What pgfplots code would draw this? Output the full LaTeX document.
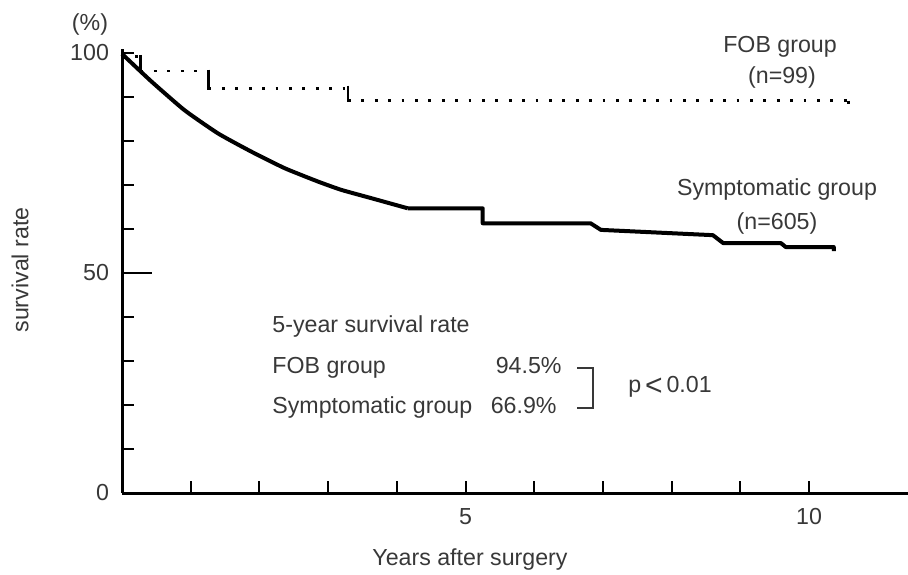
\documentclass[border=0pt]{standalone}
\usepackage{pgfplots}
\pgfplotsset{compat=1.18}
\usepackage{fontspec}
\setmainfont{Liberation Sans}
\definecolor{txt}{rgb}{0.22,0.22,0.22}
\newcommand{\tf}{\fontsize{11.6}{14}\selectfont}
\begin{document}
\begin{tikzpicture}[x=0.5pt,y=0.5pt]
\useasboundingbox (-122,-81) rectangle (786,493);
\begin{axis}[
  at={(0,0)}, anchor=south west,
  scale only axis, width=393pt, height=222.2pt,
  xmin=0, xmax=11.44, ymin=0, ymax=101,
  axis lines=left,
  axis line style={-, line width=1.5pt, black},
  tick align=inside,
  major tick length=6pt,
  xtick={1,...,10},
  xticklabels={{},{},{},{},5,{},{},{},{},10},
  ytick={0,10,20,30,40,60,70,80,90,100},
  yticklabels={0,{},{},{},{},{},{},{},{},100},
  extra y ticks={50},
  extra y tick labels={50},
  extra y tick style={major tick length=15pt, major tick style={line width=2pt, black}},
  x tick style={line width=1pt, black},
  y tick style={line width=1.2pt, black},
  /pgf/number format/assume math mode=true,
  ticklabel style={font=\tf, text=txt},
  yticklabel style={xshift=-3pt},
  xticklabel style={yshift=-4pt},
  clip=false,
]
% Symptomatic group
\addplot[black, line width=2pt, line join=round, smooth, tension=0.3] coordinates {
(0,99.8)(0.43,93.5)(0.91,87.0)(1.40,81.7)(1.88,77.6)(2.37,73.8)(2.85,70.8)(3.19,68.9)(3.63,67.0)(4.16,64.7)
};
\addplot[black, line width=2pt, line join=round] coordinates {
(4.16,64.7)(5.25,64.7)(5.25,61.3)(6.82,61.3)(6.97,59.8)(8.6,58.6)(8.75,56.8)(9.59,56.8)(9.66,55.9)(10.36,55.9)(10.36,55)
};
% FOB group horizontal (dotted)
\addplot[black, line width=1.4pt, dash pattern=on 1.4pt off 5.3pt] coordinates {(0,99.2)(0.27,99.2)};
\addplot[black, line width=1.4pt, dash pattern=on 1.4pt off 5.3pt] coordinates {(0.27,95.9)(1.26,95.9)};
\addplot[black, line width=1.4pt, dash pattern=on 1.4pt off 5.3pt] coordinates {(1.26,92.0)(3.29,92.0)};
\addplot[black, line width=1.4pt, dash pattern=on 1.4pt off 5.3pt] coordinates {(3.29,89.2)(10.57,89.2)};
% FOB group steps (solid)
\addplot[black, line width=1.3pt] coordinates {(0.27,99.6)(0.27,95.4)};
\addplot[black, line width=1.3pt] coordinates {(1.26,96.2)(1.26,91.6)};
\addplot[black, line width=1.3pt] coordinates {(3.29,92.6)(3.29,88.9)};
\addplot[black, line width=1.3pt] coordinates {(10.57,89.2)(10.57,88.4)};
\end{axis}
\begin{scope}[every node/.style={font=\tf, text=txt, inner sep=0pt}]
\node at (-32,469) {(\%)};
\node[rotate=90] at (-102,223) {survival rate};
\node at (348,-67) {Years after surgery};
\node at (658,446) {FOB group};
\node at (660,416) {(n=99)};
\node at (655,304) {Symptomatic group};
\node at (655,270) {(n=605)};
\node[anchor=base west] at (150,161) {5-year survival rate};
\node[anchor=base west] at (150,120) {FOB group};
\node[anchor=base east] at (440,120) {94.5\%};
\node[anchor=base west] at (150,80) {Symptomatic group};
\node[anchor=base east] at (435,80) {66.9\%};
\node[anchor=base west] at (506,101) {p\,\raisebox{-1.5pt}{\fontsize{15}{16}\selectfont<}\,0.01};
\end{scope}
\draw[txt, line width=1pt] (455,125) -- (471,125) -- (471,85) -- (455,85);
\end{tikzpicture}
\end{document}
